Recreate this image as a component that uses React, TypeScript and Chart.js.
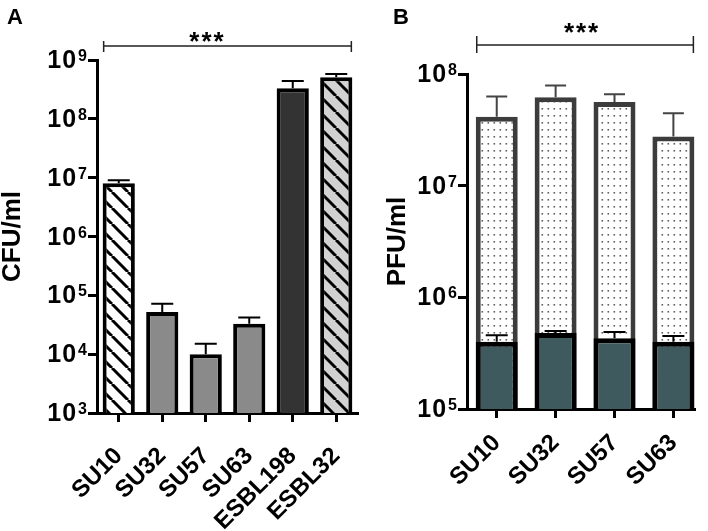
import React, { useEffect, useRef } from 'react';
import { Chart, registerables } from 'chart.js';

Chart.register(...registerables);

const FONT = '"Liberation Sans", Arial, Helvetica, sans-serif';

// Panel A data
const catsA = ['SU10', 'SU32', 'SU57', 'SU63', 'ESBL198', 'ESBL32'];
const cfuMean = [8.0e6, 5.2e4, 1.0e4, 3.3e4, 3.3e8, 5.1e8];
const cfuUpper = [9.0e6, 7.2e4, 1.5e4, 4.2e4, 4.4e8, 5.8e8];
const yTicksA = [1e3, 1e4, 1e5, 1e6, 1e7, 1e8, 1e9];

// Panel B data
const catsB = ['SU10', 'SU32', 'SU57', 'SU63'];
const pfuTotal = [4.15e7, 6.2e7, 5.6e7, 2.75e7];
const pfuTotalUpper = [6.3e7, 7.9e7, 6.6e7, 4.45e7];
const pfuLow = [4.0e5, 4.8e5, 4.3e5, 4.0e5];
const pfuLowUpper = [4.57e5, 5.0e5, 4.9e5, 4.5e5];
const yTicksB = [1e5, 1e6, 1e7, 1e8];

function hatchPattern(bg: string, line: string, size: number, width: number) {
  const c = document.createElement('canvas');
  c.width = size;
  c.height = size;
  const g = c.getContext('2d')!;
  g.fillStyle = bg;
  g.fillRect(0, 0, size, size);
  g.strokeStyle = line;
  g.lineWidth = width;
  for (const k of [-size, 0, size]) {
    g.beginPath();
    g.moveTo(k, 0);
    g.lineTo(k + size, size);
    g.stroke();
  }
  return g.createPattern(c, 'repeat')!;
}

function dotPattern() {
  const c = document.createElement('canvas');
  c.width = 6;
  c.height = 7;
  const g = c.getContext('2d')!;
  g.fillStyle = '#ffffff';
  g.fillRect(0, 0, 6, 7);
  g.fillStyle = '#5e5e5e';
  g.fillRect(2.5, 3, 1.6, 1.6);
  return g.createPattern(c, 'repeat')!;
}

const errorBarsPlugin = {
  id: 'errorBars',
  afterDatasetsDraw(chart: any, _a: any, opts: any) {
    const ctx = chart.ctx;
    const ys = chart.scales.y;
    (opts.sets || []).forEach((set: any) => {
      const meta = chart.getDatasetMeta(set.datasetIndex);
      ctx.save();
      ctx.strokeStyle = set.color;
      ctx.lineWidth = set.width;
      meta.data.forEach((bar: any, i: number) => {
        const top = ys.getPixelForValue(set.values[i]);
        ctx.beginPath();
        ctx.moveTo(bar.x, bar.y);
        ctx.lineTo(bar.x, top);
        ctx.moveTo(bar.x - set.cap / 2, top);
        ctx.lineTo(bar.x + set.cap / 2, top);
        ctx.stroke();
      });
      ctx.restore();
    });
  },
};

const powerTicksPlugin = {
  id: 'powerTicks',
  afterDraw(chart: any) {
    const ctx = chart.ctx;
    const ys = chart.scales.y;
    const right = chart.chartArea.left - 10;
    ctx.save();
    ctx.fillStyle = '#000';
    ctx.textBaseline = 'alphabetic';
    ctx.textAlign = 'right';
    ys.ticks.forEach((t: any) => {
      const py = ys.getPixelForValue(t.value);
      const exp = String(Math.round(Math.log10(t.value)));
      ctx.font = `bold 16px ${FONT}`;
      const ew = ctx.measureText(exp).width;
      ctx.fillText(exp, right, py + 1);
      ctx.font = `bold 25px ${FONT}`;
      (ctx as any).letterSpacing = '1px';
      ctx.fillText('10', right - ew - 1, py + 8);
      (ctx as any).letterSpacing = '0px';
    });
    ctx.restore();
  },
};

const annotPlugin = {
  id: 'annot',
  afterDraw(chart: any, _a: any, o: any) {
    const ctx = chart.ctx;
    ctx.save();
    ctx.fillStyle = '#000';
    ctx.textBaseline = 'alphabetic';
    ctx.textAlign = 'left';
    ctx.font = `bold 22px ${FONT}`;
    ctx.fillText(o.letter, o.letterX, o.letterY);
    const meta = chart.getDatasetMeta(o.datasetIndex);
    const first = meta.data[0];
    const last = meta.data[meta.data.length - 1];
    const x1 = first.x - first.width / 2 + 1;
    const x2 = last.x + last.width / 2 - 1;
    const by = o.bracketY;
    ctx.strokeStyle = '#222';
    ctx.lineWidth = 1.5;
    ctx.beginPath();
    ctx.moveTo(x1, by);
    ctx.lineTo(x2, by);
    ctx.moveTo(x1, by - o.tickUp);
    ctx.lineTo(x1, by + o.tickDown);
    ctx.moveTo(x2, by - o.tickUp);
    ctx.lineTo(x2, by + o.tickDown);
    ctx.stroke();
    ctx.font = `bold 26px ${FONT}`;
    ctx.textAlign = 'center';
    (ctx as any).letterSpacing = '2px';
    ctx.fillText('***', (x1 + x2) / 2 + o.starDx, o.starY);
    ctx.restore();
  },
};

const axisGrid = {
  display: true,
  drawOnChartArea: false,
  drawTicks: true,
  tickLength: 9,
  tickWidth: 3,
  tickColor: '#000',
  offset: false,
};
const axisBorder = { display: true, color: '#000', width: 3 };

function fitX(height: number) {
  return (s: any) => {
    s.height = height;
    s.paddingLeft = 0;
    s.paddingRight = 0;
    s.paddingTop = 0;
    s.paddingBottom = 0;
  };
}

export default function App() {
  const refA = useRef<HTMLCanvasElement>(null);
  const refB = useRef<HTMLCanvasElement>(null);

  useEffect(() => {
    const hatchW = hatchPattern('#ffffff', '#000000', 16, 3);
    const hatchG = hatchPattern('#d2d2d2', '#000000', 16, 3);
    const dots = dotPattern();

    const chartA = new Chart(refA.current!, {
      type: 'bar',
      data: {
        labels: catsA,
        datasets: [
          {
            data: cfuMean,
            backgroundColor: [hatchW, '#8a8a8a', '#8a8a8a', '#8a8a8a', '#333333', hatchG] as any,
            borderColor: '#000',
            borderWidth: 4,
            categoryPercentage: 1,
            barPercentage: 0.74,
          },
        ],
      },
      options: {
        animation: false,
        responsive: false,
        maintainAspectRatio: false,
        layout: { padding: { left: 0, right: 7, top: 60, bottom: 0 } },
        plugins: {
          legend: { display: false },
          tooltip: { enabled: false },
          errorBars: { sets: [{ datasetIndex: 0, values: cfuUpper, color: '#000', width: 2, cap: 22 }] },
          annot: {
            letter: 'A', letterX: 7, letterY: 24, datasetIndex: 0,
            bracketY: 46, tickUp: 5, tickDown: 6, starY: 50, starDx: -20,
          },
        } as any,
        scales: {
          x: {
            type: 'category',
            offset: true,
            grid: axisGrid as any,
            border: axisBorder,
            ticks: {
              color: '#000',
              font: { family: FONT, size: 24, weight: 'bold' },
              minRotation: 45,
              maxRotation: 45,
              autoSkip: false,
              padding: 20,
            },
            afterFit: fitX(118),
          },
          y: {
            type: 'logarithmic',
            min: 1e3,
            max: 1e9,
            afterBuildTicks: (s: any) => { s.ticks = yTicksA.map((v) => ({ value: v })); },
            ticks: { callback: () => '' },
            grid: axisGrid as any,
            border: axisBorder,
            title: {
              display: true,
              text: 'CFU/ml',
              color: '#000',
              font: { family: FONT, size: 26, weight: 'bold', lineHeight: 1 },
              padding: 0,
            },
            afterFit: (s: any) => { s.width = 97; s.paddingTop = 0; s.paddingBottom = 0; },
          },
        },
      },
      plugins: [errorBarsPlugin, powerTicksPlugin, annotPlugin],
    });

    const chartB = new Chart(refB.current!, {
      type: 'bar',
      data: {
        datasets: [
          {
            data: pfuLow.map((v, i) => ({ x: i, y: v })),
            backgroundColor: '#3f5a5f',
            borderColor: '#000',
            borderWidth: 5,
            grouped: false,
            categoryPercentage: 1,
            barPercentage: 0.713,
          },
          {
            data: pfuTotal.map((v, i) => ({ x: i, y: v })),
            backgroundColor: dots as any,
            borderColor: '#3c3c3c',
            borderWidth: 5,
            grouped: false,
            categoryPercentage: 1,
            barPercentage: 0.713,
          },
        ] as any,
      },
      options: {
        animation: false,
        responsive: false,
        maintainAspectRatio: false,
        layout: { padding: { left: 20, right: 13, top: 74, bottom: 0 } },
        plugins: {
          legend: { display: false },
          tooltip: { enabled: false },
          errorBars: {
            sets: [
              { datasetIndex: 1, values: pfuTotalUpper, color: '#444', width: 2, cap: 21 },
              { datasetIndex: 0, values: pfuLowUpper, color: '#000', width: 2, cap: 22 },
            ],
          },
          annot: {
            letter: 'B', letterX: 28, letterY: 24, datasetIndex: 1,
            bracketY: 45, tickUp: 9, tickDown: 8, starY: 41, starDx: -3,
          },
        } as any,
        scales: {
          x: {
            type: 'linear',
            min: -0.505,
            max: 3.367,
            offset: false,
            afterBuildTicks: (s: any) => { s.ticks = catsB.map((_, i) => ({ value: i })); },
            grid: axisGrid as any,
            border: axisBorder,
            ticks: {
              color: '#000',
              font: { family: FONT, size: 24, weight: 'bold' },
              minRotation: 45,
              maxRotation: 45,
              autoSkip: false,
              padding: 11,
              callback: (v: any) => catsB[Math.round(Number(v))] ?? '',
            },
            afterFit: fitX(122),
          },
          y: {
            type: 'logarithmic',
            min: 1e5,
            max: 1e8,
            afterBuildTicks: (s: any) => { s.ticks = yTicksB.map((v) => ({ value: v })); },
            ticks: { callback: () => '' },
            grid: axisGrid as any,
            border: axisBorder,
            title: {
              display: true,
              text: 'PFU/ml',
              color: '#000',
              font: { family: FONT, size: 26, weight: 'bold', lineHeight: 1 },
              padding: 0,
            },
            afterFit: (s: any) => { s.width = 82; s.paddingTop = 0; s.paddingBottom = 0; },
          },
        },
      },
      plugins: [errorBarsPlugin, powerTicksPlugin, annotPlugin],
    });

    return () => {
      chartA.destroy();
      chartB.destroy();
    };
  }, []);

  return (
    <div style={{ position: 'absolute', left: 0, top: 0, width: 708, height: 531, background: '#fff' }}>
      <canvas ref={refA} width={365} height={531} style={{ position: 'absolute', left: 0, top: 0 }} />
      <canvas ref={refB} width={343} height={531} style={{ position: 'absolute', left: 365, top: 0 }} />
    </div>
  );
}
